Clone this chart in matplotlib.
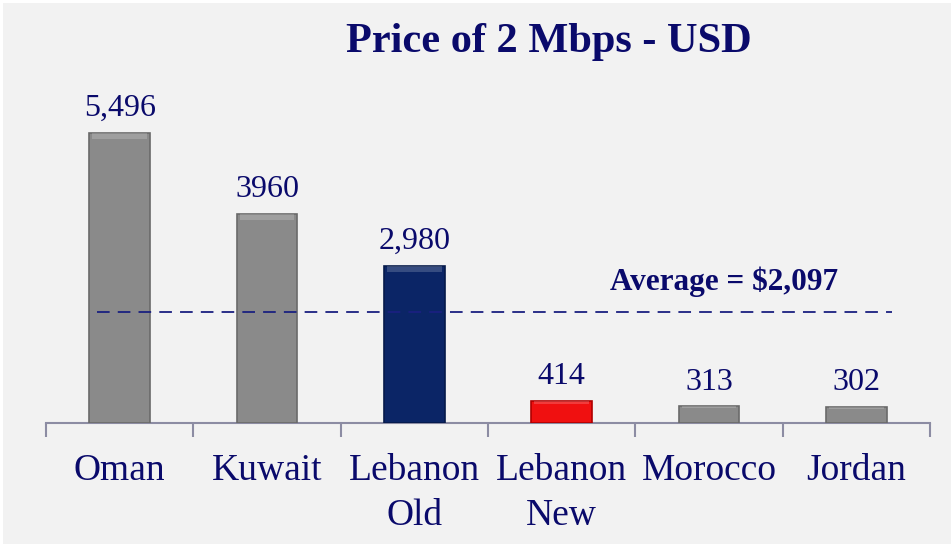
import matplotlib
matplotlib.use("Agg")
import matplotlib.pyplot as plt
import numpy as np

categories = ["Oman", "Kuwait", "Lebanon\nOld", "Lebanon\nNew", "Morocco", "Jordan"]
values = [5496, 3960, 2980, 414, 313, 302]
value_labels = ["5,496", "3960", "2,980", "414", "313", "302"]
bar_colors = ["#8a8a8a", "#8a8a8a", "#0b2566", "#f01010", "#8a8a8a", "#8a8a8a"]
edge_colors = ["#6a6a6a", "#6a6a6a", "#061a4a", "#b00000", "#6a6a6a", "#6a6a6a"]
average = 2097
title = "Price of 2 Mbps - USD"
avg_label = "Average = $2,097"

W, H = 951, 544
text_color = "#0a0a6b"
serif = ["Liberation Serif", "DejaVu Serif"]

fig = plt.figure(figsize=(W / 100, H / 100), dpi=100, facecolor="white")
fig.patches.append(plt.Rectangle((3 / W, 0), 1 - 3 / W, 1 - 3 / H, transform=fig.transFigure,
                                 facecolor="#f2f2f2", edgecolor="none", zorder=-10))

base_px = 423
top_px = 60
px_per_unit = (base_px - 133) / 5496.0
ax = fig.add_axes([46 / W, (H - base_px) / H, (930 - 46) / W, (base_px - top_px) / H])
ax.set_facecolor("none")
ax.set_zorder(1)
ax.set_xlim(-0.5, len(categories) - 0.5)
ax.set_ylim(0, (base_px - top_px) / px_per_unit)

x = np.arange(len(categories))
ax.bar(x, values, width=0.41, color=bar_colors, edgecolor=edge_colors, linewidth=1.2, zorder=3)
for xi, v in zip(x, values):
    hl = min(v * 0.12, 120)
    ax.bar(xi, hl, bottom=v - hl, width=0.37, color="white", alpha=0.18, linewidth=0, zorder=4)

for xi, v, lab in zip(x, values, value_labels):
    ax.annotate(lab, (xi, v), xytext=(0, 7), textcoords="offset points", ha="center", va="bottom",
                fontsize=23, color=text_color, family=serif)

ax.axhline(average, xmin=0.058, xmax=0.957, color="#1a2080", linestyle=(0, (7, 4.5)), linewidth=1.3, zorder=5)
ax.annotate(avg_label, (4.1, average), xytext=(0, 11), textcoords="offset points", ha="center", va="bottom",
            fontsize=22.5, fontweight="bold", color=text_color, family=serif)

for s in ["top", "right", "left"]:
    ax.spines[s].set_visible(False)
ax.spines["bottom"].set_color("#8c8ca3")
ax.spines["bottom"].set_linewidth(1.5)
ax.set_yticks([])
ax.set_xticks(x)
ax.set_xticklabels(categories, fontsize=27, color=text_color, family=serif, linespacing=1.4)
ax.tick_params(axis="x", which="major", length=0, pad=22)
ax.set_xticks(np.arange(-0.5, len(categories)), minor=True)
ax.tick_params(axis="x", which="minor", length=10, width=1.5, color="#8c8ca3")

fig.text(549 / W, 1 - 42 / H, title, ha="center", va="center", fontsize=30.5, fontweight="bold",
         color=text_color, family=serif)

fig.savefig("out.png", dpi=100, facecolor=fig.get_facecolor())
